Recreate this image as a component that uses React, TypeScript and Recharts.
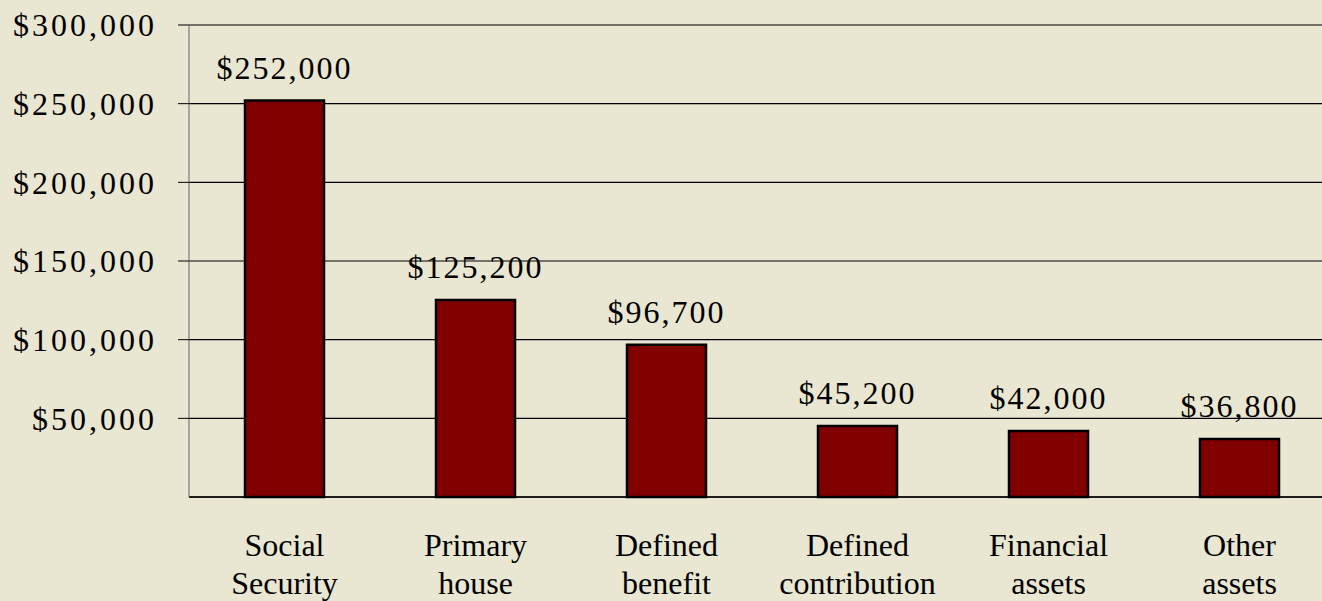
import React from 'react';
import { BarChart, Bar, XAxis, YAxis, CartesianGrid, LabelList } from 'recharts';

const categories = ['Social Security', 'Primary house', 'Defined benefit', 'Defined contribution', 'Financial assets', 'Other assets'];
const values = [252000, 125200, 96700, 45200, 42000, 36800];
const yTicks = [50000, 100000, 150000, 200000, 250000, 300000];

const data = categories.map((name, i) => ({ name, value: values[i] }));

const FONT = '"Liberation Serif", "Times New Roman", serif';
const fmt = (v: number) => '$' + v.toLocaleString('en-US');

const XTick = (props: any) => {
  const { x, y, payload } = props;
  const words = String(payload.value).split(' ');
  return (
    <text x={x} y={y} textAnchor="middle" fontFamily={FONT} fontSize={32} fill="#000">
      <tspan x={x} dy={59}>{words[0]}</tspan>
      <tspan x={x} dy={38}>{words.slice(1).join(' ')}</tspan>
    </text>
  );
};

export default function App() {
  return (
    <div style={{ position: 'absolute', left: 0, top: 0, width: 1322, height: 601, background: '#E9E6D2', overflow: 'hidden' }}>
      <BarChart width={1335} height={601} data={data} margin={{ top: 25, right: 0, bottom: 0, left: 0 }} barSize={79}>
        <CartesianGrid vertical={false} stroke="#000" strokeWidth={1.2} />
        <XAxis
          dataKey="name"
          height={104}
          tickLine={false}
          tickSize={0}
          tickMargin={0}
          axisLine={{ stroke: '#000', strokeWidth: 1.5 }}
          tick={<XTick />}
          interval={0}
        />
        <YAxis
          width={189}
          domain={[0, 300000]}
          ticks={yTicks}
          tickFormatter={fmt}
          tickSize={11}
          tickMargin={21}
          tickLine={{ stroke: '#000' }}
          axisLine={{ stroke: '#666' }}
          tick={{ fontFamily: FONT, fontSize: 32, fill: '#000', letterSpacing: 3 }}
        />
        <Bar dataKey="value" fill="#800000" stroke="#000" strokeWidth={2.5} isAnimationActive={false}>
          <LabelList
            dataKey="value"
            position="top"
            offset={22}
            formatter={(v: any) => fmt(Number(v))}
            style={{ fontFamily: FONT, fontSize: 32, fill: '#000', letterSpacing: 2 }}
          />
        </Bar>
      </BarChart>
    </div>
  );
}
